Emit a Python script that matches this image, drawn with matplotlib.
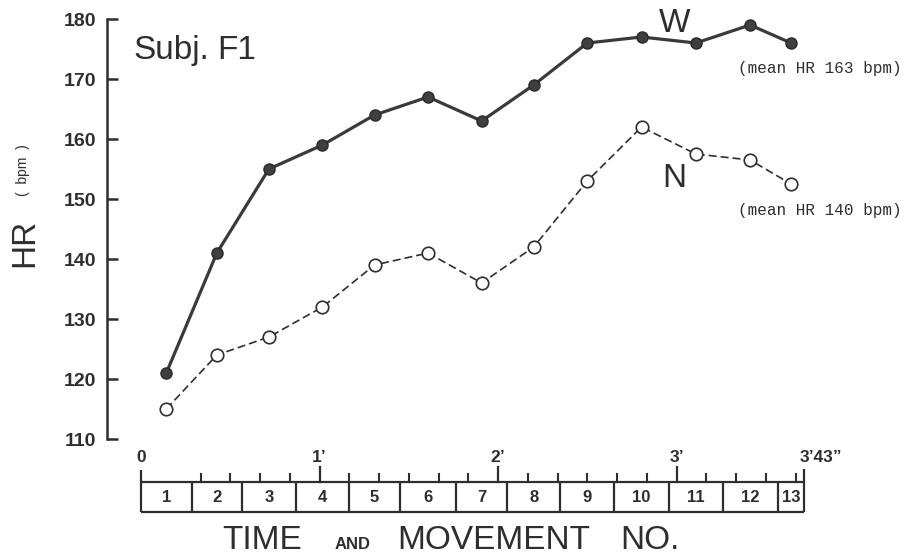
import matplotlib
matplotlib.use("Agg")
import matplotlib.pyplot as plt
import numpy as np

# ---------------- data ----------------
movement_no = [1, 2, 3, 4, 5, 6, 7, 8, 9, 10, 11, 12, 13]
movement_end_s = [17, 34, 52, 70, 87, 106, 123, 141, 159, 177.5, 195.5, 214, 223]
hr_W = [121, 141, 155, 159, 164, 167, 163, 169, 176, 177, 176, 179, 176]
hr_N = [115, 124, 127, 132, 139, 141, 136, 142, 153, 162, 157.5, 156.5, 152.5]
y_ticks = [110, 120, 130, 140, 150, 160, 170, 180]
time_minor_ticks = [20, 30, 40, 50, 70, 80, 90, 100, 110, 130, 140, 150, 160, 170,
                    190, 200, 210, 220]
time_major_ticks = [60, 120, 180]
time_labels = ["0", "1\u2019", "2\u2019", "3\u2019", "3\u201943\u201d"]
time_label_pos = [0, 60, 120, 180, 223]
mean_W_text = "(mean HR 163 bpm)"
mean_N_text = "(mean HR 140 bpm)"

# ---------------- layout ----------------
W, H = 906, 559
def fx(x): return x / W
def fy(y): return 1 - y / H

SANS = ["Liberation Sans", "DejaVu Sans"]
plt.rcParams["font.family"] = SANS
INK = "#2e2e2e"

fig = plt.figure(figsize=(W / 100, H / 100), dpi=100)

x0px = 141.0
pps = 178.5 / 60.0
xlim = ((107 - x0px) / pps, (906 - x0px) / pps)

ax = fig.add_axes([fx(107), fy(439), (906 - 107) / W, 420 / H])
ax.set_xlim(*xlim)
ax.set_ylim(110, 180)
for s in ["top", "right", "bottom"]:
    ax.spines[s].set_visible(False)
ax.spines["left"].set_linewidth(1.8)
ax.spines["left"].set_color(INK)
ax.set_xticks([])
ax.set_yticks(y_ticks)
ax.tick_params(axis="y", direction="in", length=8, width=1.8, pad=8,
               labelsize=14, colors=INK)
for lab in ax.get_yticklabels():
    lab.set_fontweight("bold")
ax.patch.set_alpha(0)

starts = [0] + movement_end_s[:-1]
mid = [(a + b) / 2 for a, b in zip(starts, movement_end_s)]

ax.plot(mid, hr_N, color=INK, lw=1.2, dashes=(4.8, 2.4), marker="o",
        ms=9, mfc="white", mec=INK, mew=1.2, clip_on=False, zorder=3)
ax.plot(mid, hr_W, color="#3a3a3a", lw=2.3, marker="o", ms=8,
        mfc="#3f3f3f", mec="#2a2a2a", mew=1.0, clip_on=False, zorder=4)

# texts
fig.text(fx(133), fy(59), "Subj.", fontsize=24, color=INK, va="baseline", ha="left")
fig.text(fx(217), fy(59), "F1", fontsize=24, color=INK, va="baseline", ha="left")
fig.text(fx(675), fy(32), "W", fontsize=24, color=INK, va="baseline", ha="center")
fig.text(fx(674), fy(187), "N", fontsize=24, color=INK, va="baseline", ha="center")
fig.text(fx(738), fy(68), mean_W_text, fontsize=11.5, color=INK, va="center",
         ha="left", family=["Liberation Mono", "DejaVu Sans Mono"])
fig.text(fx(738), fy(210), mean_N_text, fontsize=11.5, color=INK, va="center",
         ha="left", family=["Liberation Mono", "DejaVu Sans Mono"])
fig.text(fx(25), fy(243), "HR", fontsize=24, color=INK, rotation=90,
         va="center", ha="center")
fig.text(fx(23), fy(170), "(  bpm  )", fontsize=10, color=INK, rotation=90,
         va="center", ha="center")

# ---------------- timeline ----------------
ax2 = fig.add_axes([fx(107), fy(512), (906 - 107) / W, 30 / H])
ax2.set_xlim(*xlim)
ax2.set_ylim(0, 1)
ax2.axis("off")
tl = dict(color=INK, lw=1.6, solid_capstyle="butt", clip_on=False)
total = movement_end_s[-1]
ax2.plot([0, total], [0, 0], **tl)
ax2.plot([0, total], [1, 1], **tl)
ax2.plot([0, 0], [0, 1.4], **tl)
ax2.plot([total, total], [0, 1.45], **tl)
for e in movement_end_s[:-1]:
    ax2.plot([e, e], [0, 1], **tl)
for t in time_minor_ticks:
    ax2.plot([t, t], [1, 1.27], color=INK, lw=1.5, clip_on=False)
for t in time_major_ticks:
    ax2.plot([t, t], [1, 1.5], color=INK, lw=1.6, clip_on=False)
for n, m in zip(movement_no, mid):
    ax2.text(m, 0.47, str(n), fontsize=12, fontweight="bold", color=INK,
             ha="center", va="center")
for lab, p in zip(time_labels, time_label_pos):
    if p == total:
        ax2.text(p - 1.7, 1.55, lab, fontsize=12.5, fontweight="bold", color=INK,
                 ha="left", va="bottom")
    else:
        ax2.text(p, 1.55, lab, fontsize=12.5, fontweight="bold", color=INK,
                 ha="center", va="bottom")

# axis title words
fig.text(fx(222), fy(549), "TIME", fontsize=24, color=INK, va="baseline", ha="left")
fig.text(fx(335), fy(549), "AND", fontsize=12, fontweight="bold", color=INK,
         va="baseline", ha="left")
fig.text(fx(397), fy(549), "MOVEMENT", fontsize=24, color=INK, va="baseline", ha="left")
fig.text(fx(620), fy(549), "NO.", fontsize=24, color=INK, va="baseline", ha="left")

fig.savefig("out.png", dpi=100, facecolor="white")
